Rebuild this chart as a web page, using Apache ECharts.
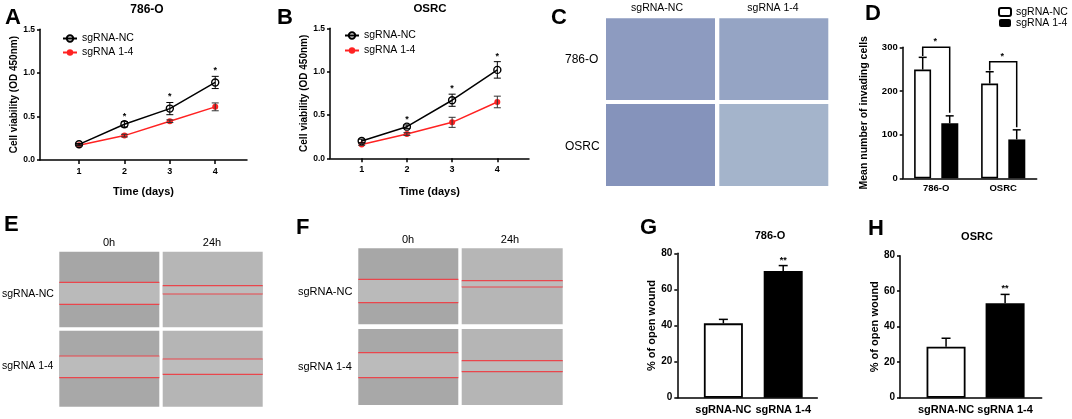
<!DOCTYPE html>
<html>
<head>
<meta charset="UTF-8">
<title>sgRNA 1-4</title>
<script src="https://cdn.jsdelivr.net/npm/echarts@6/dist/echarts.min.js"></script>
<style>
html, body { margin: 0; padding: 0; background: #fff; }
#main { width: 1072px; height: 419px; }
</style>
</head>
<body>
<div id="main"></div>
<script>
// ---- data ----
var days = [1, 2, 3, 4];
var a_nc = [0.18, 0.41, 0.59, 0.89];
var a_nc_err = [0.01, 0.03, 0.07, 0.07];
var a_ko = [0.17, 0.28, 0.445, 0.61];
var a_ko_err = [0.01, 0.015, 0.015, 0.045];
var a_sig = ['', '*', '*', '*'];

var b_nc = [0.2, 0.365, 0.67, 1.02];
var b_nc_err = [0.02, 0.02, 0.07, 0.095];
var b_ko = [0.16, 0.28, 0.415, 0.65];
var b_ko_err = [0.01, 0.015, 0.058, 0.067];
var b_sig = ['', '*', '*', '*'];

var cells = ['786-O', 'OSRC'];
var d_nc = [249, 217];
var d_nc_err = [28, 27];
var d_ko = [126, 89];
var d_ko_err = [17, 22];
// significance brackets: bar level, left leg end, right leg end
var d_bracket = [[300, 280, 150], [267, 247, 117]];

var groups = ['sgRNA-NC', 'sgRNA 1-4'];
var g_val = [41.2, 70.2];
var g_err = [2.2, 3];
var g_sig = ['', '**'];
var h_val = [28.7, 53.2];
var h_err = [4.8, 5];
var h_sig = ['', '**'];

var FF = '"Liberation Sans", Arial, sans-serif';
var RED = '#ff2222';

function pairs(xs, ys) {
	return xs.map(function (x, i) { return [x, ys[i]]; });
}
function triples(xs, ys, es) {
	return xs.map(function (x, i) { return [x, ys[i], es[i]]; });
}

// error bars (+ optional stars) drawn through the axes
function errSeries(gi, data, color, sig, both, dx, capW, lw) {
	return {
		type: 'custom', xAxisIndex: gi, yAxisIndex: gi, silent: true, z: 5,
		data: data,
		renderItem: function (params, api) {
			var x = api.value(0), y = api.value(1), e = api.value(2);
			var top = api.coord([x, y + e]);
			var bot = api.coord([x, both ? y - e : y]);
			var cx = top[0] + dx;
			var st = { stroke: color, lineWidth: lw };
			var ch = [
				{ type: 'line', shape: { x1: cx, y1: top[1], x2: cx, y2: bot[1] }, style: st },
				{ type: 'line', shape: { x1: cx - capW, y1: top[1], x2: cx + capW, y2: top[1] }, style: st }
			];
			if (both) ch.push({ type: 'line', shape: { x1: cx - capW, y1: bot[1], x2: cx + capW, y2: bot[1] }, style: st });
			var s = sig ? sig[params.dataIndex] : '';
			if (s) ch.push({ type: 'text', style: { text: s, x: cx, y: top[1] - 1, align: 'center', verticalAlign: 'bottom', font: 'bold 9px ' + FF, fill: '#000' } });
			return { type: 'group', children: ch };
		}
	};
}

function yAx(gi, max, step, name, gap, nameSize, labSize, fmt) {
	return {
		type: 'value', gridIndex: gi, min: 0, max: max, interval: step,
		name: name, nameLocation: 'middle', nameGap: gap, nameRotate: 90,
		nameTextStyle: { color: '#000', fontWeight: 'bold', fontSize: nameSize, fontFamily: FF },
		axisLine: { show: true, onZero: false, lineStyle: { color: '#000', width: 1.5 } },
		axisTick: { show: true, length: 3, lineStyle: { color: '#000', width: 1.5 } },
		axisLabel: { color: '#000', fontWeight: 'bold', fontSize: labSize, fontFamily: FF, margin: 5, formatter: fmt },
		splitLine: { show: false }
	};
}

function xValAx(gi, min, max, ticks, fmt, showTick, labSize, name, gap) {
	return {
		type: 'value', gridIndex: gi, min: min, max: max,
		name: name, nameLocation: 'middle', nameGap: gap,
		nameTextStyle: { color: '#000', fontWeight: 'bold', fontSize: 11, fontFamily: FF },
		axisLine: { show: true, onZero: false, lineStyle: { color: '#000', width: 1.5 } },
		axisTick: { show: showTick, length: 4, customValues: ticks, lineStyle: { color: '#000', width: 1.5 } },
		axisLabel: { color: '#000', fontWeight: 'bold', fontSize: labSize, fontFamily: FF, margin: 7, customValues: ticks, formatter: fmt },
		splitLine: { show: false }
	};
}

function oneDec(v) { return v.toFixed(1); }
function groupName(v) { return groups[Math.round(v)]; }

function lineSeries(gi, name, ys, open) {
	return {
		type: 'line', name: name, xAxisIndex: gi, yAxisIndex: gi,
		data: pairs(days, ys),
		symbol: 'circle', symbolSize: open ? 7 : 6,
		itemStyle: open ? { color: 'rgba(255,255,255,0)', borderColor: '#000', borderWidth: 1.4 } : { color: RED },
		lineStyle: { color: open ? '#000' : RED, width: 1.5 },
		z: open ? 4 : 3
	};
}

function barPair(gi, vals) {
	return {
		type: 'bar', xAxisIndex: gi, yAxisIndex: gi, barWidth: 39,
		data: vals.map(function (v, i) {
			return {
				value: [i, v],
				itemStyle: i === 0 ? { color: '#fff', borderColor: '#000', borderWidth: 1.8 } : { color: '#000' }
			};
		})
	};
}

// ---- free text, image panels ----
function txt(x, y, s, font, align) {
	return { type: 'text', silent: true, style: { text: s, x: x, y: y, font: font, fill: '#000', align: align || 'left', verticalAlign: 'middle' } };
}
function box(x, y, w, h, fill) {
	return { type: 'rect', silent: true, shape: { x: x, y: y, width: w, height: h }, style: { fill: fill } };
}
function redLine(x, y, w) {
	return { type: 'line', silent: true, shape: { x1: x, y1: y, x2: x + w, y2: y }, style: { stroke: '#e9464c', lineWidth: 1.2 } };
}
// scratch-wound micrograph: gray frame, lighter gap, two red edges
function wound(x, y, w, h, y1, y2, base, gap) {
	return [box(x, y, w, h, base), box(x, y1, w, y2 - y1, gap), redLine(x, y1, w), redLine(x, y2, w)];
}

var LET = 'bold 22px ' + FF;
var graphic = [
	txt(5, 18, 'A', LET), txt(277, 17.5, 'B', LET), txt(551, 17.5, 'C', LET), txt(865, 13.5, 'D', LET),
	txt(4, 225, 'E', LET), txt(296, 227.5, 'F', LET), txt(640, 227.5, 'G', LET), txt(868, 229, 'H', LET),
	txt(147, 10, '786-O', 'bold 12px ' + FF, 'center'),
	txt(430, 8.5, 'OSRC', 'bold 11.5px ' + FF, 'center'),
	txt(770, 236, '786-O', 'bold 11px ' + FF, 'center'),
	txt(977, 237, 'OSRC', 'bold 11px ' + FF, 'center'),
	// C: transwell images
	txt(657, 8, 'sgRNA-NC', '10.5px ' + FF, 'center'),
	txt(773, 8, 'sgRNA 1-4', '10.5px ' + FF, 'center'),
	txt(565, 60, '786-O', '12px ' + FF),
	txt(565, 147, 'OSRC', '12px ' + FF),
	box(606, 18.3, 109, 81.7, '#8d9bc0'),
	box(719.3, 18.3, 109, 81.7, '#95a4c4'),
	box(606, 104, 109, 82, '#8593bb'),
	box(719.3, 104, 109, 82, '#a4b4cb'),
	// E
	txt(109, 243, '0h', '11px ' + FF, 'center'),
	txt(212, 243, '24h', '11px ' + FF, 'center'),
	txt(2, 294, 'sgRNA-NC', '10.5px ' + FF),
	txt(2, 366, 'sgRNA 1-4', '10.5px ' + FF),
	// F
	txt(408, 240, '0h', '11px ' + FF, 'center'),
	txt(510, 240, '24h', '11px ' + FF, 'center'),
	txt(298, 292, 'sgRNA-NC', '11px ' + FF),
	txt(298, 367, 'sgRNA 1-4', '11px ' + FF)
];
graphic = graphic
	.concat(wound(59.3, 251.7, 100, 75.6, 282.3, 304.3, '#a6a6a6', '#bababa'))
	.concat(wound(162.7, 251.7, 100, 75.6, 285.7, 294, '#b6b6b6', '#bdbdbd'))
	.concat(wound(59.3, 330.7, 100, 76, 356, 377.7, '#a8a8a8', '#bbbbbb'))
	.concat(wound(162.7, 330.7, 100, 76, 359, 374.3, '#b5b5b5', '#bcbcbc'))
	.concat(wound(358.3, 248.3, 100, 76, 279.3, 302.7, '#a7a7a7', '#bababa'))
	.concat(wound(461.7, 248.3, 101, 76, 280.7, 287, '#b6b6b6', '#bcbcbc'))
	.concat(wound(358.3, 329, 100, 76, 352.7, 377.7, '#a8a8a8', '#bbbbbb'))
	.concat(wound(461.7, 329, 101, 76, 360.7, 371.7, '#b5b5b5', '#bcbcbc'));

var legendNames = { dnc: 'sgRNA-NC', dko: 'sgRNA 1-4' };

var option = {
	animation: false,
	backgroundColor: '#fff',
	textStyle: { fontFamily: FF },
	grid: [
		{ left: 40, top: 29.3, width: 207, height: 130.7 },
		{ left: 330, top: 28.3, width: 199, height: 130 },
		{ left: 902.7, top: 47.3, width: 134, height: 131 },
		{ left: 677.3, top: 253.3, width: 140, height: 144.4 },
		{ left: 900, top: 255.7, width: 141.7, height: 142 }
	],
	legend: [
		{ left: 62, top: 33, padding: 0, orient: 'vertical', itemWidth: 14, itemHeight: 8, itemGap: 3, data: ['sgRNA-NC', 'sgRNA 1-4'],
		  textStyle: { fontSize: 10.5, color: '#000', fontFamily: FF } },
		{ left: 344, top: 30, padding: 0, orient: 'vertical', itemWidth: 14, itemHeight: 8, itemGap: 4, data: ['sgRNA-NC', 'sgRNA 1-4'],
		  textStyle: { fontSize: 10.5, color: '#000', fontFamily: FF } },
		{ left: 998, top: 6.5, padding: 0, orient: 'vertical', itemWidth: 12, itemHeight: 8, itemGap: 0, data: ['dnc', 'dko'],
		  formatter: function (n) { return legendNames[n]; },
		  textStyle: { fontSize: 10.5, lineHeight: 11, color: '#000', fontFamily: FF } }
	],
	xAxis: [
		xValAx(0, 0.14, 4.7, days, null, true, 9, 'Time (days)', 26),
		xValAx(1, 0.3, 4.7, days, null, true, 9, 'Time (days)', 28),
		{
			type: 'category', gridIndex: 2, data: cells,
			axisLine: { lineStyle: { color: '#000', width: 1.5 } },
			axisTick: { alignWithLabel: true, length: 3, lineStyle: { color: '#000', width: 1.5 } },
			axisLabel: { color: '#000', fontWeight: 'bold', fontSize: 9.5, fontFamily: FF, margin: 5 }
		},
		xValAx(3, -0.77, 1.57, [0, 1], groupName, false, 11, '', 0),
		xValAx(4, -0.78, 1.62, [0, 1], groupName, false, 11, '', 0)
	],
	yAxis: [
		yAx(0, 1.5, 0.5, 'Cell viability (OD 450nm)', 18, 10, 8.5, oneDec),
		yAx(1, 1.5, 0.5, 'Cell viability (OD 450nm)', 18, 10, 8.5, oneDec),
		yAx(2, 300, 100, 'Mean number of invading cells', 33, 10.5, 9.5),
		yAx(3, 80, 20, '% of open wound', 20, 11, 10),
		yAx(4, 80, 20, '% of open wound', 18, 11, 10)
	],
	series: [
		lineSeries(0, 'sgRNA 1-4', a_ko, false),
		lineSeries(0, 'sgRNA-NC', a_nc, true),
		errSeries(0, triples(days, a_ko, a_ko_err), '#333', null, true, 0, 3.5, 1),
		errSeries(0, triples(days, a_nc, a_nc_err), '#000', a_sig, true, 0, 3.5, 1),
		lineSeries(1, 'sgRNA 1-4', b_ko, false),
		lineSeries(1, 'sgRNA-NC', b_nc, true),
		errSeries(1, triples(days, b_ko, b_ko_err), '#333', null, true, 0, 3.5, 1),
		errSeries(1, triples(days, b_nc, b_nc_err), '#000', b_sig, true, 0, 3.5, 1),
		{
			type: 'bar', name: 'dnc', xAxisIndex: 2, yAxisIndex: 2, data: d_nc, barWidth: 17, barGap: '60%',
			itemStyle: { color: '#fff', borderColor: '#000', borderWidth: 1.6 }
		},
		{
			type: 'bar', name: 'dko', xAxisIndex: 2, yAxisIndex: 2, data: d_ko, barWidth: 17, barGap: '60%',
			itemStyle: { color: '#000' }
		},
		errSeries(2, triples([0, 1], d_nc, d_nc_err), '#000', null, false, -13.5, 4, 1.5),
		errSeries(2, triples([0, 1], d_ko, d_ko_err), '#000', null, false, 13.5, 4, 1.5),
		{
			type: 'custom', xAxisIndex: 2, yAxisIndex: 2, silent: true, z: 6,
			data: d_bracket.map(function (b, i) { return [i, b[0], b[1], b[2]]; }),
			renderItem: function (params, api) {
				var i = api.value(0);
				var line = api.coord([i, api.value(1)]);
				var l = api.coord([i, api.value(2)]);
				var r = api.coord([i, api.value(3)]);
				var xl = line[0] - 13.5, xr = line[0] + 13.5;
				return { type: 'group', children: [
					{ type: 'polyline', shape: { points: [[xl, l[1]], [xl, line[1]], [xr, line[1]], [xr, r[1]]] },
					  style: { stroke: '#000', lineWidth: 1.5, fill: null } },
					{ type: 'text', style: { text: '*', x: line[0] - 1, y: line[1] - 1, align: 'center', verticalAlign: 'bottom', font: 'bold 9px ' + FF, fill: '#000' } }
				] };
			}
		},
		barPair(3, g_val),
		errSeries(3, triples([0, 1], g_val, g_err), '#000', g_sig, false, 0, 4.5, 1.5),
		barPair(4, h_val),
		errSeries(4, triples([0, 1], h_val, h_err), '#000', h_sig, false, 0, 4.5, 1.5)
	],
	graphic: graphic
};

var myChart = echarts.init(document.getElementById('main'));
myChart.setOption(option);
</script>
</body>
</html>
